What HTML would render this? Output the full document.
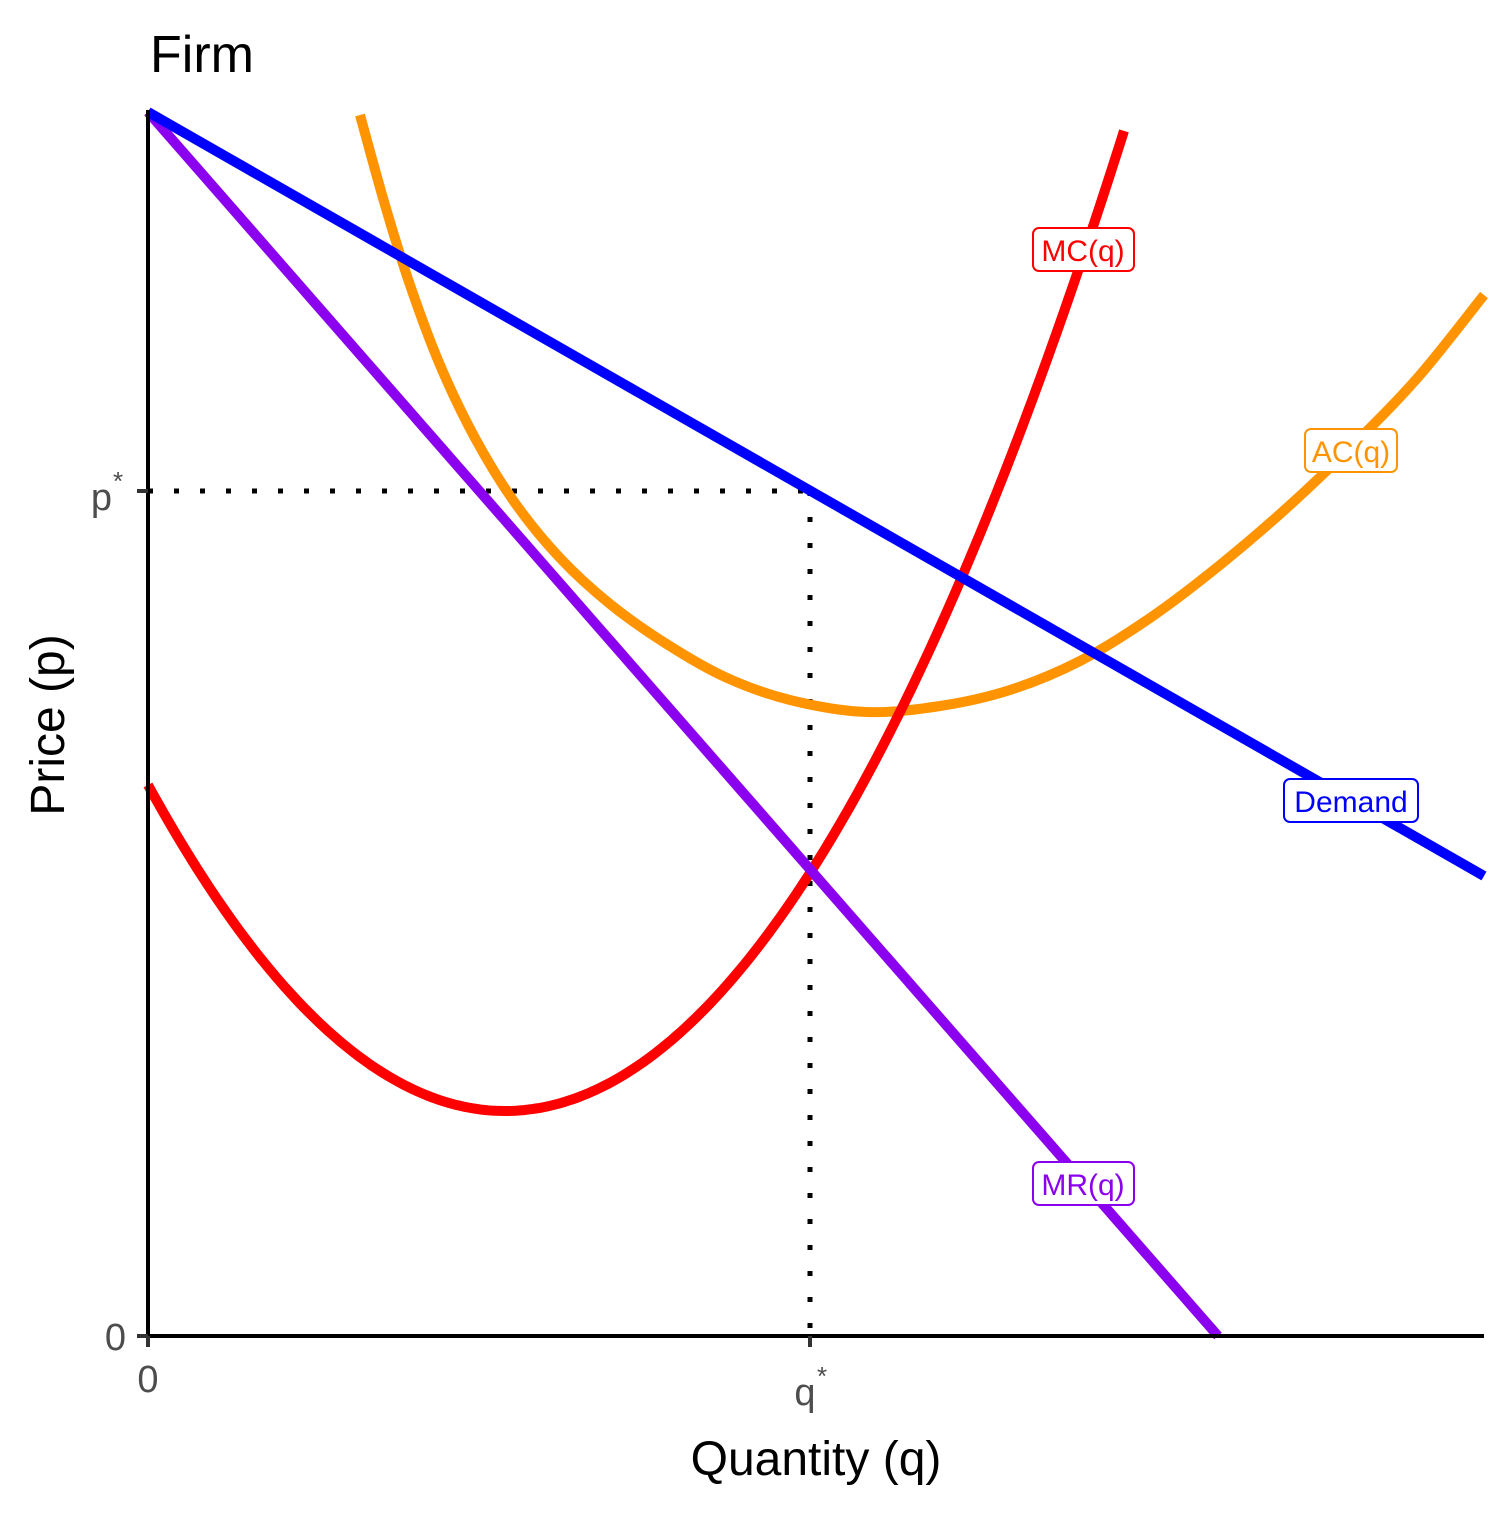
<!DOCTYPE html>
<html><head><style>
html,body{margin:0;padding:0;background:#fff;}
svg text{font-family:"Liberation Sans Narrow","Liberation Sans",sans-serif;}
</style></head><body>
<svg id="s" width="1512" height="1512" viewBox="0 0 1512 1512" xmlns="http://www.w3.org/2000/svg">
<rect width="1512" height="1512" fill="#fff"/>
<text x="150" y="72" font-size="52" fill="#000">Firm</text>
<line x1="148" y1="491" x2="810" y2="491" stroke="#000" stroke-width="5" stroke-dasharray="5 21"/>
<line x1="810" y1="491" x2="810" y2="1336" stroke="#000" stroke-width="5" stroke-dasharray="5 21"/>
<path id="ac" fill="none" stroke="#FF9400" stroke-width="10"/>
<path id="mc" fill="none" stroke="#FF0000" stroke-width="10"/>
<line x1="148" y1="112" x2="1218" y2="1336" stroke="#8B00EE" stroke-width="10"/>
<line x1="148" y1="112" x2="1484" y2="876" stroke="#0000FF" stroke-width="10"/>
<line x1="148" y1="110" x2="148" y2="1338" stroke="#000" stroke-width="4"/>
<line x1="146" y1="1336" x2="1484" y2="1336" stroke="#000" stroke-width="4"/>
<line x1="137" y1="491" x2="148" y2="491" stroke="#333" stroke-width="4"/>
<line x1="137" y1="1336" x2="148" y2="1336" stroke="#333" stroke-width="4"/>
<line x1="148" y1="1336" x2="148" y2="1347" stroke="#333" stroke-width="4"/>
<line x1="810" y1="1336" x2="810" y2="1347" stroke="#333" stroke-width="4"/>
<g fill="#4d4d4d" font-size="38">
<text x="126" y="1350" text-anchor="end">0</text>
<text x="112" y="510" text-anchor="end">p</text><text x="113" y="490" font-size="26">*</text>
<text x="148" y="1392" text-anchor="middle">0</text>
<text x="805" y="1405" text-anchor="middle">q</text><text x="817" y="1385" font-size="26">*</text>
</g>
<text x="816" y="1475" font-size="48" text-anchor="middle" fill="#000">Quantity (q)</text>
<text transform="translate(64,725) rotate(-90)" font-size="48" text-anchor="middle" fill="#000">Price (p)</text>
<g font-size="30" text-anchor="middle">
<rect x="1033" y="228" width="101" height="43" rx="6" fill="#fff" stroke="#FF0000" stroke-width="2"/>
<text x="1083" y="261" fill="#FF0000">MC(q)</text>
<rect x="1305" y="429" width="92" height="43" rx="6" fill="#fff" stroke="#FF9400" stroke-width="2"/>
<text x="1351" y="462" fill="#FF9400">AC(q)</text>
<rect x="1284" y="779" width="134" height="43" rx="6" fill="#fff" stroke="#0000FF" stroke-width="2"/>
<text x="1351" y="812" fill="#0000FF">Demand</text>
<rect x="1033" y="1162" width="101" height="43" rx="6" fill="#fff" stroke="#8B00EE" stroke-width="2"/>
<text x="1083" y="1195" fill="#8B00EE">MR(q)</text>
</g>
</svg>
<script>
var d="";for(var x=148;x<=1125;x+=4){var y=1111-0.002558*(x-505)*(x-505);d+=(x==148?"M":"L")+x+","+y.toFixed(1);}
document.getElementById("mc").setAttribute("d",d);
var p=[[360,115],[385,205],[410,285],[440,365],[475,438],[515,503],[560,558],[610,604],[665,643],[725,677],[790,700],[866,712],[940,706],[1010,690],[1080,661],[1150,618],[1220,565],[1290,505],[1360,438],[1420,375],[1484,295]];
var s="M"+p[0][0]+","+p[0][1];
for(var i=0;i<p.length-1;i++){var a=p[i-1]||p[i],b=p[i],c=p[i+1],e=p[i+2]||c;
s+="C"+(b[0]+(c[0]-a[0])/6)+","+(b[1]+(c[1]-a[1])/6)+" "+(c[0]-(e[0]-b[0])/6)+","+(c[1]-(e[1]-b[1])/6)+" "+c[0]+","+c[1];}
document.getElementById("ac").setAttribute("d",s);
</script>
</body></html>
